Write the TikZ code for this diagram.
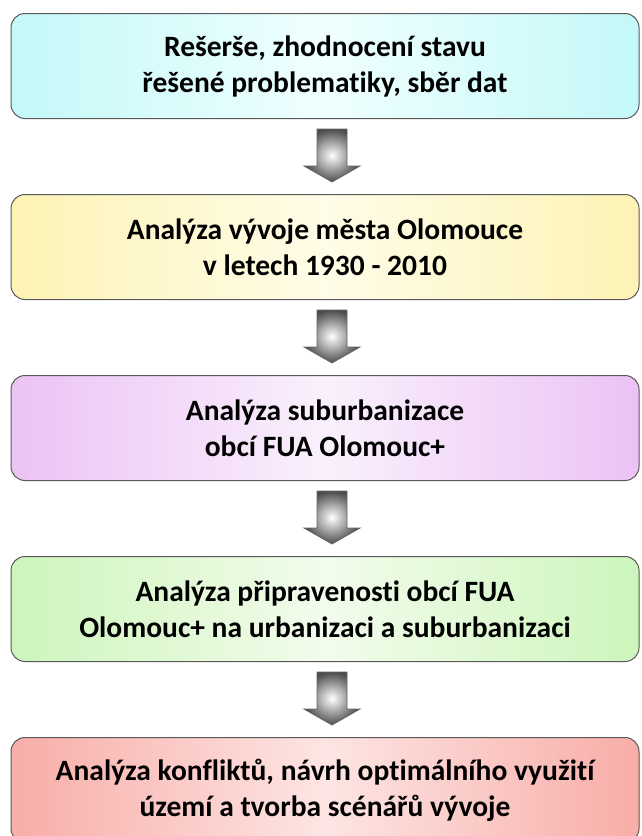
\documentclass[tikz,border=0pt]{standalone}
\usepackage{fontspec}
\setmainfont{Carlito}[Ligatures=NoCommon]
\usetikzlibrary{calc}
\definecolor{cyanedge}{HTML}{C4F8F8}
\definecolor{cyanmid}{HTML}{F0FFFF}
\definecolor{yellowedge}{HTML}{FDF3B5}
\definecolor{yellowmid}{HTML}{FFFCE8}
\definecolor{violetedge}{HTML}{EBC3F5}
\definecolor{violetmid}{HTML}{FAF0FC}
\definecolor{greenedge}{HTML}{CDF5BC}
\definecolor{greenmid}{HTML}{F2FCEC}
\definecolor{rededge}{HTML}{F8ADA8}
\definecolor{redmid}{HTML}{FDE5E3}
\tikzstyle{stage}=[rectangle, rounded corners=14pt, draw=black!65, line width=1pt, minimum width=628pt, minimum height=105pt, inner sep=0pt, align=center, anchor=north, font=\fontsize{29.5}{36}\selectfont\bfseries]
\tikzstyle{flow}=[draw=black!60, line width=0.8pt, inner color=white, outer color=black!70]
\newcommand{\flowarrow}[2]
{
  \path[flow] let \p1 = (#1.south), \p2 = (#2.north) in
    (\x1-8pt,\y1-10pt) -- (\x1+22pt,\y1-10pt) -- (\x1+22pt,\y2+28pt) -- (\x1+35pt,\y2+28pt)
    -- (\x1+7pt,\y2+12pt) -- (\x1-21pt,\y2+28pt) -- (\x1-8pt,\y2+28pt) -- cycle;
}

\begin{document}
\begin{tikzpicture}
	\useasboundingbox (0,0) rectangle (642pt,-836pt);

	\node[stage, left color=cyanedge, right color=cyanedge, middle color=cyanmid] (s1) at (325pt,-13pt) {Rešerše, zhodnocení stavu\\řešené problematiky, sběr dat};
	\node[stage, left color=yellowedge, right color=yellowedge, middle color=yellowmid] (s2) at (325pt,-194pt) {Analýza vývoje města Olomouce\\v letech 1930 - 2010};
	\node[stage, left color=violetedge, right color=violetedge, middle color=violetmid] (s3) at (325pt,-375pt) {Analýza suburbanizace\\obcí FUA Olomouc+};
	\node[stage, left color=greenedge, right color=greenedge, middle color=greenmid] (s4) at (325pt,-556pt) {Analýza připravenosti obcí FUA\\Olomouc+ na urbanizaci a suburbanizaci};
	\node[stage, left color=rededge, right color=rededge, middle color=redmid] (s5) at (325pt,-737pt) {Analýza konfliktů, návrh optimálního využití\\území a tvorba scénářů vývoje};

	\flowarrow{s1}{s2}
	\flowarrow{s2}{s3}
	\flowarrow{s3}{s4}
	\flowarrow{s4}{s5}
\end{tikzpicture}
\end{document}
